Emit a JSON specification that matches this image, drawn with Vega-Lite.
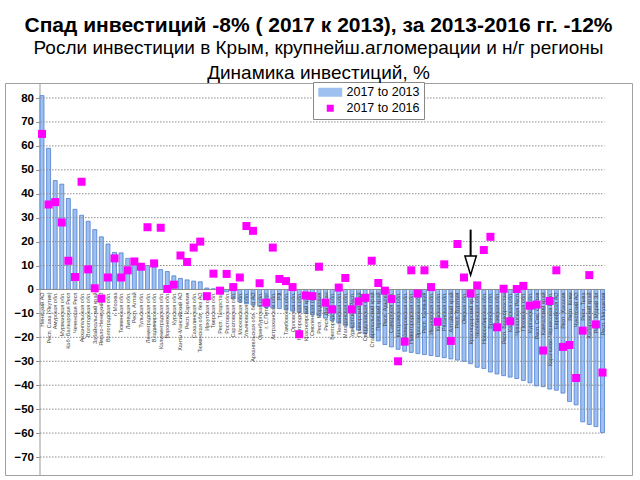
{
  "$schema": "https://vega.github.io/schema/vega-lite/v6.json",
  "width": 627,
  "height": 392,
  "autosize": {"type": "none"},
  "padding": {"left": 5, "top": 83, "right": 8, "bottom": 5},
  "background": "white",
  "title": {
    "text": "Спад инвестиций -8% ( 2017 к 2013), за 2013-2016 гг. -12%",
    "subtitle": ["Росли инвестиции в Крым, крупнейш.агломерации и н/г регионы", "Динамика инвестиций, %"],
    "anchor": "middle",
    "font": "Liberation Sans",
    "fontSize": 21,
    "fontWeight": "bold",
    "color": "black",
    "subtitleFont": "Liberation Sans",
    "subtitleFontSize": 19,
    "subtitleColor": "black",
    "subtitleLineHeight": 25,
    "subtitlePadding": 3,
    "offset": -1
  },
  "config": {
    "view": {"stroke": "#a0a0a0", "strokeWidth": 1},
    "axisY": {
      "grid": false,
      "offset": -34.5,
      "labelOverlap": false,
      "labelFont": "Liberation Sans",
      "labelFontSize": 11.5,
      "labelFontWeight": "bold",
      "labelColor": "black",
      "labelPadding": 2,
      "domainColor": "#999999",
      "tickColor": "#999999",
      "tickSize": 4
    },
    "legend": {
      "orient": "none",
      "legendX": 308,
      "legendY": -1,
      "strokeColor": "#888888",
      "fillColor": "white",
      "padding": 4,
      "symbolOffset": 7,
      "labelOffset": 10,
      "labelFont": "Liberation Sans",
      "labelFontSize": 12.5,
      "labelColor": "black",
      "symbolSize": 100,
      "symbolStrokeWidth": 0,
      "rowPadding": 3
    }
  },
  "datasets": {
    "inv": [
      {"r": "Ненецкий АО", "d13": 81, "d16": 65},
      {"r": "Респ. Саха (Якутия)", "d13": 59, "d16": 35.5},
      {"r": "Амурская обл.", "d13": 45.5, "d16": 36.5},
      {"r": "Мурманская обл.", "d13": 44, "d16": 28},
      {"r": "Каб.-Балкарская Респ", "d13": 38, "d16": 12},
      {"r": "Чеченская Респ", "d13": 33.5, "d16": 5.2},
      {"r": "Архангельская обл.", "d13": 31, "d16": 45},
      {"r": "Вологодская обл.", "d13": 28.5, "d16": 8.4},
      {"r": "Забайкальский край", "d13": 25, "d16": 0.5},
      {"r": "Ямало-Ненецкий АО", "d13": 22, "d16": -3.8},
      {"r": "Волгоградская обл.", "d13": 19, "d16": 5},
      {"r": "г. Москва", "d13": 15.5, "d16": 13},
      {"r": "Тюменская обл.", "d13": 15.3, "d16": 5},
      {"r": "Липецкая обл.", "d13": 13, "d16": 8},
      {"r": "Респ. Алтай", "d13": 12.8, "d16": 11.7},
      {"r": "Тульская обл.", "d13": 10.8, "d16": 9.5},
      {"r": "Ленинградская обл.", "d13": 10, "d16": 26},
      {"r": "Владимирская обл.", "d13": 9.3, "d16": 10.9},
      {"r": "Калининградская обл.", "d13": 8.3, "d16": 25.8},
      {"r": "Воронежская обл.", "d13": 7.5, "d16": 0.2},
      {"r": "Курская обл.", "d13": 5.7, "d16": 2},
      {"r": "Ханты-Мансийский АО", "d13": 4.6, "d16": 14.2},
      {"r": "Респ. Карелия", "d13": 4, "d16": 11.5},
      {"r": "Сахалинская обл.", "d13": 3.5, "d16": 17.5},
      {"r": "Тюменская обл. без АО", "d13": 3.2, "d16": 20},
      {"r": "Иркутская обл.", "d13": 0.6, "d16": -2.8},
      {"r": "Тверская обл.", "d13": 0.3, "d16": 6.6},
      {"r": "Респ. Татарстан", "d13": -0.3, "d16": -0.5},
      {"r": "Ростовская обл.", "d13": -1, "d16": 6.5},
      {"r": "Саратовская обл.", "d13": -3.8, "d16": 1},
      {"r": "Московская обл.", "d13": -5.2, "d16": 5},
      {"r": "Ульяновская обл.", "d13": -6, "d16": 26.5},
      {"r": "Архангельская обл. без АО", "d13": -6.5, "d16": 24.5},
      {"r": "Оренбургская обл.", "d13": -7, "d16": 2.6},
      {"r": "г. С.Петербург", "d13": -7.5, "d16": -5.5},
      {"r": "Астраханская обл.", "d13": -7.8, "d16": 17.5},
      {"r": "РФ", "d13": -8, "d16": 4.4},
      {"r": "Тамбовская обл.", "d13": -8.5, "d16": 3.5},
      {"r": "Орловская обл.", "d13": -9, "d16": 1},
      {"r": "Новгородская обл.", "d13": -9.5, "d16": -18.7},
      {"r": "Красноярский край", "d13": -10, "d16": -2.5},
      {"r": "Смоленская обл.", "d13": -10.5, "d16": -2.8},
      {"r": "Респ. Мордовия", "d13": -11, "d16": 9.5},
      {"r": "Респ. Дагестан", "d13": -12, "d16": -5.5},
      {"r": "Белгородская обл.", "d13": -13, "d16": -8.3},
      {"r": "Пензенская обл.", "d13": -14, "d16": 0.8},
      {"r": "Магаданская обл.", "d13": -15, "d16": 4.8},
      {"r": "Удмуртская Респ.", "d13": -16, "d16": -8.3},
      {"r": "Приморский край", "d13": -17, "d16": -5},
      {"r": "Свердловская обл.", "d13": -18.5, "d16": -3.5},
      {"r": "Ставропольский край", "d13": -20, "d16": 12},
      {"r": "Пермский край", "d13": -21.5, "d16": 2.7},
      {"r": "Респ. Адыгея", "d13": -23, "d16": -0.5},
      {"r": "Самарская обл.", "d13": -24, "d16": -4},
      {"r": "Костромская обл.", "d13": -25, "d16": -30},
      {"r": "Кемеровская обл.", "d13": -25.8, "d16": -21.8},
      {"r": "Нижегородская обл.", "d13": -26.3, "d16": 8},
      {"r": "Ярославская обл.", "d13": -26.8, "d16": -1.7},
      {"r": "Респ. Калмыкия", "d13": -27.2, "d16": 8},
      {"r": "Ивановская обл.", "d13": -27.6, "d16": 1},
      {"r": "Кировская обл.", "d13": -28, "d16": -13.5},
      {"r": "Рязанская обл.", "d13": -28.5, "d16": 10.5},
      {"r": "Алтайский край", "d13": -29, "d16": -21.5},
      {"r": "Респ. Бурятия", "d13": -29.5, "d16": 19},
      {"r": "Омская обл.", "d13": -30, "d16": 5},
      {"r": "Краснодарский край", "d13": -31, "d16": -1.7},
      {"r": "Челябинская обл.", "d13": -32.5, "d16": 1.7},
      {"r": "Новосибирская обл.", "d13": -33, "d16": 16.5},
      {"r": "Брянская обл.", "d13": -34.5, "d16": 22},
      {"r": "Томская обл.", "d13": -35.3, "d16": -15.8},
      {"r": "Респ. Башкортостан", "d13": -36, "d16": 0.3},
      {"r": "Калужская обл.", "d13": -36.6, "d16": -13.3},
      {"r": "Чувашская Респ.", "d13": -37.2, "d16": 0.2},
      {"r": "Псковская обл.", "d13": -38, "d16": 1.5},
      {"r": "Курганская обл.", "d13": -39, "d16": -6.8},
      {"r": "Респ. Сев. Осетия", "d13": -40.3, "d16": -6.3},
      {"r": "Камчатский край", "d13": -40.6, "d16": -25.5},
      {"r": "Карачаево-Черкесская Респ.", "d13": -41.6, "d16": -4.8},
      {"r": "Еврейская АО", "d13": -42.1, "d16": 8},
      {"r": "Респ. Хакасия", "d13": -43.3, "d16": -24},
      {"r": "Респ. Коми", "d13": -46.8, "d16": -23.2},
      {"r": "Чукотский АО", "d13": -48.2, "d16": -37},
      {"r": "Респ. Тыва", "d13": -55.3, "d16": -17.2},
      {"r": "Хабаровский край", "d13": -56.4, "d16": 6},
      {"r": "Респ. Марий Эл", "d13": -57.3, "d16": -14.6},
      {"r": "Респ. Ингушетия", "d13": -59.8, "d16": -34.7}
    ],
    "grid": [
      {"g": -70, "a": "Ненецкий АО", "b": "Респ. Ингушетия"},
      {"g": -60, "a": "Ненецкий АО", "b": "Респ. Ингушетия"},
      {"g": -50, "a": "Ненецкий АО", "b": "Респ. Ингушетия"},
      {"g": -40, "a": "Ненецкий АО", "b": "Респ. Ингушетия"},
      {"g": -30, "a": "Ненецкий АО", "b": "Респ. Ингушетия"},
      {"g": -20, "a": "Ненецкий АО", "b": "Респ. Ингушетия"},
      {"g": -10, "a": "Ненецкий АО", "b": "Респ. Ингушетия"},
      {"g": 0, "a": "Ненецкий АО", "b": "Респ. Ингушетия"},
      {"g": 10, "a": "Ненецкий АО", "b": "Респ. Ингушетия"},
      {"g": 20, "a": "Ненецкий АО", "b": "Респ. Ингушетия"},
      {"g": 30, "a": "Ненецкий АО", "b": "Респ. Ингушетия"},
      {"g": 40, "a": "Ненецкий АО", "b": "Респ. Ингушетия"},
      {"g": 50, "a": "Ненецкий АО", "b": "Респ. Ингушетия"},
      {"g": 60, "a": "Ненецкий АО", "b": "Респ. Ингушетия"},
      {"g": 70, "a": "Ненецкий АО", "b": "Респ. Ингушетия"},
      {"g": 80, "a": "Ненецкий АО", "b": "Респ. Ингушетия"}
    ]
  },
  "data": {"name": "inv"},
  "layer": [
    {
      "mark": {"type": "bar", "fill": "#9dc0f0", "stroke": "#4f7fd0", "strokeWidth": 0.8},
      "encoding": {
        "x": {
          "field": "r", "type": "nominal", "sort": null, "axis": null,
          "scale": {"type": "band", "range": [33.7, 600.8], "paddingInner": 0.4, "paddingOuter": 0.2, "align": 0.5}
        },
        "y": {
          "field": "d13", "type": "quantitative", "title": null,
          "scale": {"domain": [-77.52, 86.27], "nice": false, "zero": false},
          "axis": {
            "title": null,
            "labelOverlap": false,
            "tickCount": 30,
            "values": [-70, -60, -50, -40, -30, -20, -10, 0, 10, 20, 30, 40, 50, 60, 70, 80]
          }
        }
      }
    },
    {
      "data": {"name": "grid"},
      "transform": [{"filter": "datum.g != 0"}],
      "mark": {"type": "rule", "color": "#8c8c8c", "strokeDash": [1.5, 1.5], "strokeWidth": 1},
      "encoding": {
        "y": {"field": "g", "type": "quantitative", "title": null},
        "x": {"field": "a", "type": "nominal", "sort": null, "axis": null, "bandPosition": 0},
        "x2": {"field": "b", "bandPosition": 1}
      }
    },
    {
      "data": {"name": "grid"},
      "transform": [{"filter": "datum.g == 0"}],
      "mark": {"type": "rule", "color": "#8c8c8c", "strokeWidth": 1},
      "encoding": {
        "y": {"field": "g", "type": "quantitative", "title": null},
        "x": {"field": "a", "type": "nominal", "sort": null, "axis": null, "bandPosition": 0},
        "x2": {"field": "b", "bandPosition": 1}
      }
    },
    {
      "mark": {"type": "text", "angle": 270, "align": "right", "baseline": "middle", "dx": -3, "font": "Liberation Sans", "fontSize": 5.5, "color": "#444444"},
      "encoding": {
        "x": {"field": "r", "type": "nominal", "sort": null, "axis": null},
        "y": {"datum": 0, "type": "quantitative", "title": null},
        "text": {"field": "r"}
      }
    },
    {
      "transform": [{"fold": ["d16"], "as": ["series", "v"]}],
      "mark": {"type": "point", "filled": true, "opacity": 1, "size": 131},
      "encoding": {
        "x": {"field": "r", "type": "nominal", "sort": null, "axis": null},
        "y": {"field": "v", "type": "quantitative", "title": null},
        "color": {
          "field": "series", "type": "nominal",
          "scale": {"domain": ["d13", "d16"], "range": ["#9dc0f0", "#ff00ff"]},
          "legend": {"title": null, "labelExpr": "datum.value == 'd13' ? '2017 to 2013' : '2017 to 2016'"}
        },
        "shape": {
          "field": "series", "type": "nominal",
          "scale": {"domain": ["d13", "d16"], "range": ["M-2.4,-0.9H2.4V0.9H-2.4Z", "M-0.7,-0.7H0.7V0.7H-0.7Z"]},
          "legend": {"title": null, "labelExpr": "datum.value == 'd13' ? '2017 to 2013' : '2017 to 2016'"}
        }
      }
    },
    {
      "transform": [{"filter": "datum.r == 'Краснодарский край'"}],
      "mark": {"type": "rule", "color": "black", "strokeWidth": 2},
      "encoding": {
        "x": {"field": "r", "type": "nominal", "sort": null, "axis": null},
        "y": {"datum": 25, "type": "quantitative", "title": null},
        "y2": {"datum": 13}
      }
    },
    {
      "transform": [{"filter": "datum.r == 'Краснодарский край'"}],
      "mark": {"type": "point", "shape": "M-0.6,-1L0.6,-1L0,1Z", "size": 361, "filled": false, "fill": "white", "stroke": "black", "strokeWidth": 1.5, "opacity": 1},
      "encoding": {
        "x": {"field": "r", "type": "nominal", "sort": null, "axis": null},
        "y": {"datum": 10, "type": "quantitative", "title": null}
      }
    }
  ]
}
